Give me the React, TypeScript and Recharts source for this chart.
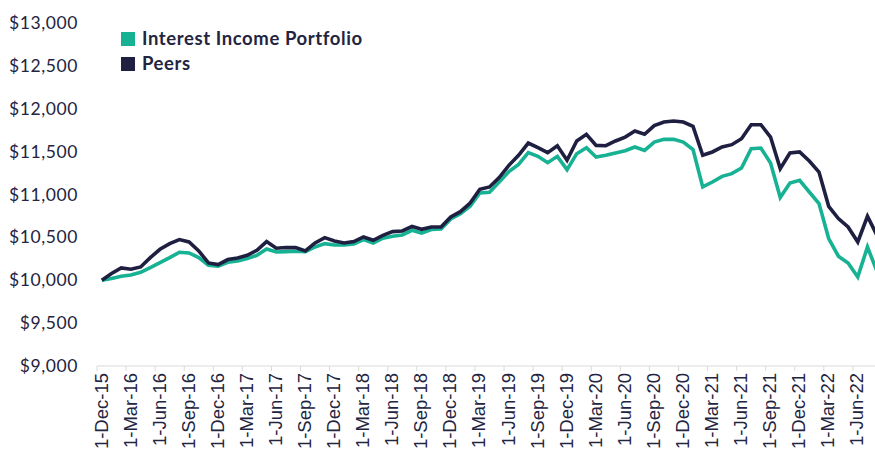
import React from "react";
import { LineChart, Line, XAxis, YAxis } from "recharts";

const months = [
  "Dec-15","Jan-16","Feb-16","Mar-16","Apr-16","May-16","Jun-16","Jul-16","Aug-16","Sep-16","Oct-16","Nov-16",
  "Dec-16","Jan-17","Feb-17","Mar-17","Apr-17","May-17","Jun-17","Jul-17","Aug-17","Sep-17","Oct-17","Nov-17",
  "Dec-17","Jan-18","Feb-18","Mar-18","Apr-18","May-18","Jun-18","Jul-18","Aug-18","Sep-18","Oct-18","Nov-18",
  "Dec-18","Jan-19","Feb-19","Mar-19","Apr-19","May-19","Jun-19","Jul-19","Aug-19","Sep-19","Oct-19","Nov-19",
  "Dec-19","Jan-20","Feb-20","Mar-20","Apr-20","May-20","Jun-20","Jul-20","Aug-20","Sep-20","Oct-20","Nov-20",
  "Dec-20","Jan-21","Feb-21","Mar-21","Apr-21","May-21","Jun-21","Jul-21","Aug-21","Sep-21","Oct-21","Nov-21",
  "Dec-21","Jan-22","Feb-22","Mar-22","Apr-22","May-22","Jun-22","Jul-22","Aug-22",
];

const portfolio = [
  10000, 10020, 10047, 10062, 10093, 10148, 10206, 10264, 10326, 10318,
  10264, 10175, 10163, 10210, 10225, 10253, 10291, 10365, 10330, 10334,
  10338, 10334, 10388, 10427, 10411, 10411, 10423, 10474, 10435, 10490,
  10513, 10528, 10583, 10551, 10591, 10598, 10715, 10777, 10862, 11018,
  11026, 11146, 11267, 11352, 11488, 11445, 11371, 11445, 11290, 11476,
  11546, 11437, 11457, 11484, 11511, 11554, 11515, 11612, 11643, 11643,
  11612, 11523, 11088, 11146, 11212, 11243, 11309, 11535, 11542, 11367,
  10964, 11134, 11165, 11029, 10894, 10486, 10280, 10202, 10039, 10388,
  10098,
];

const peers = [
  10000, 10078, 10143, 10128, 10155, 10264, 10361, 10427, 10474, 10446,
  10342, 10202, 10183, 10241, 10260, 10291, 10350, 10451, 10373, 10381,
  10381, 10342, 10435, 10497, 10458, 10435, 10451, 10505, 10466, 10524,
  10567, 10575, 10629, 10594, 10621, 10621, 10738, 10800, 10901, 11061,
  11088, 11197, 11340, 11457, 11600, 11546, 11488, 11569, 11399, 11624,
  11702, 11573, 11569, 11624, 11670, 11740, 11702, 11803, 11845, 11857,
  11845, 11795, 11457, 11496, 11554, 11581, 11651, 11814, 11814, 11670,
  11302, 11484, 11496, 11391, 11262, 10862, 10719, 10621, 10446, 10746,
  10520,
];

const xTickLabels = [
  "1-Dec-15","1-Mar-16","1-Jun-16","1-Sep-16","1-Dec-16","1-Mar-17","1-Jun-17","1-Sep-17","1-Dec-17",
  "1-Mar-18","1-Jun-18","1-Sep-18","1-Dec-18","1-Mar-19","1-Jun-19","1-Sep-19","1-Dec-19","1-Mar-20",
  "1-Jun-20","1-Sep-20","1-Dec-20","1-Mar-21","1-Jun-21","1-Sep-21","1-Dec-21","1-Mar-22","1-Jun-22",
];

const yTicks = [9000, 9500, 10000, 10500, 11000, 11500, 12000, 12500, 13000];

const seriesNames = ["Interest Income Portfolio", "Peers"];

const GREEN = "#17b193";
const NAVY = "#1f2041";
const TEXT = "#23243f";

const data = months.map((m, i) => ({
  month: m,
  x: i + 0.5,
  portfolio: portfolio[i],
  peers: peers[i],
}));

const xTicks = xTickLabels.map((_, k) => k * 3);

const XTick = (props: any) => {
  const { x, y, payload } = props;
  const label = xTickLabels[Math.round(payload.value / 3)] ?? "";
  return (
    <g transform={`translate(${x},${y})`}>
      <text
        transform="rotate(-90)"
        textAnchor="end"
        x={0}
        y={0}
        dy={10.5}
        fontFamily="'Liberation Sans', Arial, sans-serif"
        fontSize={18.5}
        fill={TEXT}
      >
        {label}
      </text>
    </g>
  );
};

const YTick = (props: any) => {
  const { y, payload } = props;
  return (
    <text
      x={78}
      y={y}
      dy={6}
      textAnchor="end"
      fontFamily="Lato, sans-serif"
      fontSize={17.5}
      letterSpacing={0.6}
      fill={TEXT}
    >
      {"$" + payload.value.toLocaleString("en-US")}
    </text>
  );
};

export default function App() {
  return (
    <div
      style={{
        position: "fixed",
        left: 0,
        top: 0,
        width: 875,
        height: 453,
        overflow: "hidden",
        background: "#ffffff",
      }}
    >
      <LineChart
        width={882}
        height={453}
        data={data}
        margin={{ top: 23, right: 0, bottom: 0, left: 0 }}
      >
        <XAxis
          dataKey="x"
          type="number"
          domain={[0, 81]}
          ticks={xTicks}
          interval={0}
          allowDataOverflow
          height={87}
          tickSize={5}
          tickMargin={2}
          stroke="#d9d9d9"
          tickLine={{ stroke: "#d9d9d9" }}
          axisLine={{ stroke: "#d9d9d9" }}
          tick={<XTick />}
        />
        <YAxis
          type="number"
          domain={[9000, 13000]}
          ticks={yTicks}
          interval={0}
          width={97}
          axisLine={false}
          tickLine={false}
          tick={<YTick />}
        />
        <Line
          type="linear"
          dataKey="portfolio"
          name={seriesNames[0]}
          stroke={GREEN}
          strokeWidth={3.6}
          dot={false}
          activeDot={false}
          isAnimationActive={false}
        />
        <Line
          type="linear"
          dataKey="peers"
          name={seriesNames[1]}
          stroke={NAVY}
          strokeWidth={3.6}
          dot={false}
          activeDot={false}
          isAnimationActive={false}
        />
      </LineChart>
      <div
        style={{
          position: "absolute",
          left: 121,
          top: 26,
          fontFamily: "Lato, sans-serif",
          fontWeight: 700,
          fontSize: 18.5,
          letterSpacing: 0.6,
          color: TEXT,
          lineHeight: "25px",
        }}
      >
        {seriesNames.map((n, i) => (
          <div key={n} style={{ display: "flex", alignItems: "center", height: 25 }}>
            <span
              style={{
                display: "inline-block",
                width: 14,
                height: 14,
                background: i === 0 ? GREEN : NAVY,
                marginRight: 7,
              }}
            />
            <span>{n}</span>
          </div>
        ))}
      </div>
    </div>
  );
}
